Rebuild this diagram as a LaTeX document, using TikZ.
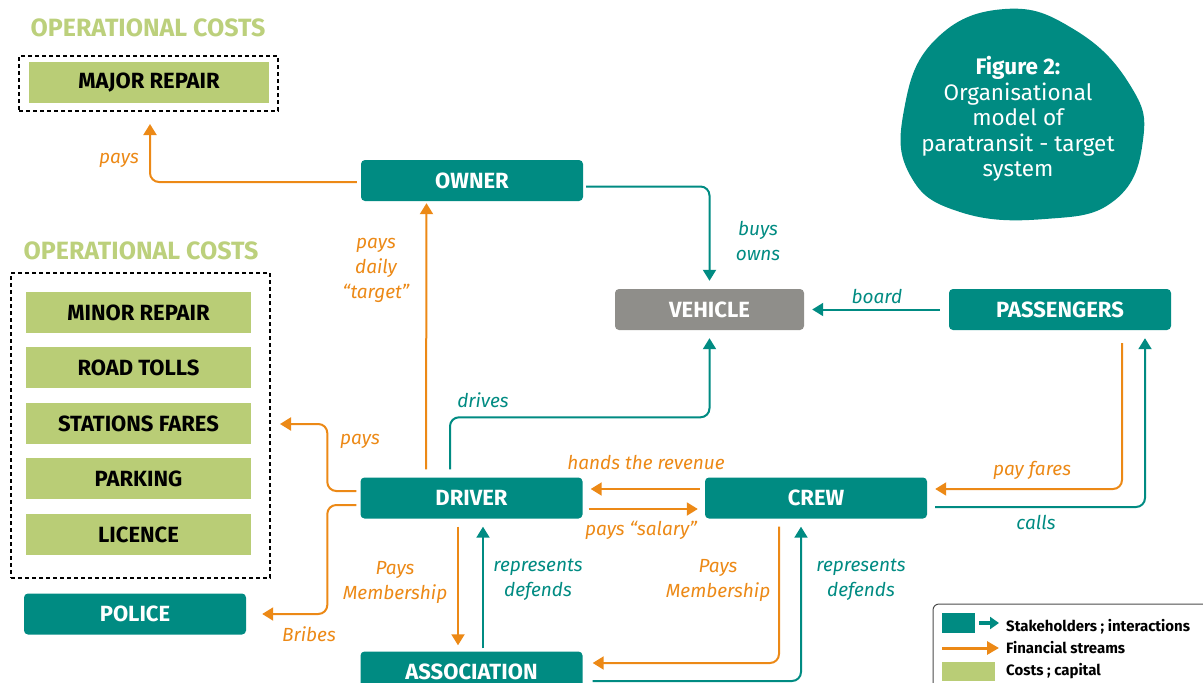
\documentclass[tikz,border=0pt]{standalone}
\usepackage{fontspec}
\setmainfont{Fira Sans}
\usetikzlibrary{arrows.meta,calc}

\definecolor{stake}{RGB}{0,139,130}
\definecolor{money}{RGB}{236,137,22}
\definecolor{cost}{RGB}{185,205,118}
\definecolor{costhead}{RGB}{188,208,124}
\definecolor{vehiclegray}{RGB}{143,142,138}

\tikzset{
  actor/.style={rounded corners=4pt, fill=stake, text=white,
    minimum width=222pt, minimum height=41pt, inner sep=0pt,
    font=\fontsize{22}{26}\selectfont\bfseries},
  costbox/.style={fill=cost, text=black,
    minimum width=225pt, minimum height=41pt, inner sep=0pt,
    font=\fontsize{22}{26}\selectfont\bfseries},
  frame/.style={draw=black, dashed, line width=1.2pt, dash pattern=on 4pt off 3pt},
  head/.style={text=costhead, font=\fontsize{25}{29}\selectfont\bfseries},
  fin/.style={draw=money, line width=2pt, rounded corners=9pt,
    -{Triangle[length=11pt,width=13pt]}},
  rel/.style={draw=stake, line width=2pt, rounded corners=9pt,
    -{Triangle[length=11pt,width=13pt]}},
  finlabel/.style={text=money, align=center, inner sep=0pt,
    font=\fontsize{19}{25}\selectfont\itshape},
  rellabel/.style={text=stake, align=center, inner sep=0pt,
    font=\fontsize{19}{25}\selectfont\itshape},
  keytext/.style={anchor=west, inner sep=0pt, font=\fontsize{15}{18}\selectfont\bfseries}
}

\begin{document}
\begin{tikzpicture}[x=1pt,y=-1pt]
\useasboundingbox (0,0) rectangle (1203,683);
\clip (0,0) rectangle (1203,683);

% ---- cost groups ----
\node[head] (head1) at (148,28) {OPERATIONAL COSTS};
\node[frame, minimum width=259pt, minimum height=55pt, inner sep=0pt] (majorframe) at (148.5,83.5) {};
\node[costbox, minimum width=240pt] (major) at (149,82.5) {MAJOR REPAIR};

\node[head] (head2) at (141,251) {OPERATIONAL COSTS};
\node[frame, minimum width=259pt, minimum height=305pt, inner sep=0pt] (costframe) at (140.5,425.5) {};
\node[costbox] (minor)    at (138.5,312.5) {MINOR REPAIR};
\node[costbox] (tolls)    at (138.5,367.5) {ROAD TOLLS};
\node[costbox] (stations) at (138.5,423.5) {STATIONS FARES};
\node[costbox] (parking)  at (138.5,478.5) {PARKING};
\node[costbox] (licence)  at (138.5,534.5) {LICENCE};

% ---- stakeholders ----
\node[actor] (police)     at (135,614)   {POLICE};
\node[actor] (owner)      at (472,180.5) {OWNER};
\node[actor, fill=vehiclegray, minimum width=189pt] (vehicle) at (709.5,309.5) {VEHICLE};
\node[actor] (passengers) at (1060,309.5) {PASSENGERS};
\node[actor] (driver)     at (471.5,498) {DRIVER};
\node[actor] (crew)       at (816,498)   {CREW};
\node[actor] (association) at (471.5,672) {ASSOCIATION};

% ---- title blob ----
\fill[stake] plot[smooth cycle, tension=0.75] coordinates
  {(1005,9) (1075,30) (1130,85) (1143,140) (1115,200) (1045,219)
   (960,212) (910,175) (904,110) (935,40)};
\node[text=white, align=center, inner sep=0pt,
      font=\fontsize{22.5}{25.5}\selectfont] (title) at (1018,119)
  {\textbf{Figure 2:}\\Organisational\\model of\\paratransit - target\\system};

% ---- free ends ----
\coordinate (majorin) at (150,124);
\coordinate (costsin) at (280,424);

% ---- connectors ----
% owner pays major repair
\draw[fin] ([xshift=-4pt,yshift=-1.5pt]owner.west) -| (majorin);
\node[finlabel] (l-pays1) at (119,160) {pays};

% owner buys the vehicle
\draw[rel] ([xshift=3pt,yshift=-6pt]owner.east) -| ([yshift=8pt]vehicle.north);
\node[rellabel] (l-buys) at (758,241) {buys\\owns};

% driver pays the owner
\draw[fin] ([xshift=-45.5pt,yshift=8pt]driver.north) -- ([xshift=-45.5pt,yshift=-2pt]owner.south);
\node[finlabel] (l-target) at (376,270) {pays\\daily\\“target”};

% driver drives the vehicle
\draw[rel] ([xshift=-21.5pt,yshift=8pt]driver.north) -- ++(0,-52) -| ([yshift=-8pt]vehicle.south);
\node[rellabel] (l-drives) at (483,400) {drives};

% passengers board
\draw[rel] ([xshift=-9pt]passengers.west) -- ([xshift=8pt]vehicle.east);
\node[rellabel] (l-board) at (877,296) {board};

% driver pays costs and bribes
\draw[fin] ([xshift=-4pt,yshift=7pt]driver.west) -- ++(-29,0) |- (costsin);
\node[finlabel] (l-pays2) at (360,441) {pays};
\draw[fin] ([xshift=-4pt,yshift=-7pt]driver.west) -- ++(-29,0) |- ([xshift=16pt]police.east);
\node[finlabel] (l-bribes) at (309,634) {Bribes};

% driver and crew
\draw[fin] ([xshift=-5pt,yshift=9pt]crew.west) -- ([xshift=8pt,yshift=9pt]driver.east);
\node[finlabel] (l-hands) at (646,463) {hands the revenue};
\draw[fin] ([xshift=6pt,yshift=-11pt]driver.east) -- ([xshift=-7pt,yshift=-11pt]crew.west);
\node[finlabel] (l-salary) at (641,530) {pays “salary”};

% passengers and crew
\draw[fin] ([xshift=62pt,yshift=-13pt]passengers.south) |- ([xshift=8pt,yshift=9pt]crew.east);
\node[finlabel] (l-fares) at (1032,470) {pay fares};
\draw[rel] ([xshift=8pt,yshift=-9pt]crew.east) -| ([xshift=85pt,yshift=-8pt]passengers.south);
\node[rellabel] (l-calls) at (1036,522) {calls};

% association
\draw[fin] ([xshift=-13.5pt,yshift=-8pt]driver.south) -- ([xshift=-13.5pt,yshift=6pt]association.north);
\node[finlabel] (l-memb1) at (395,582) {Pays\\Membership};
\draw[rel] ([xshift=11.5pt,yshift=3pt]association.north) -- ([xshift=11.5pt,yshift=-8pt]driver.south);
\node[rellabel] (l-rep1) at (538,580) {represents\\defends};
\draw[fin] ([xshift=-37pt,yshift=-8pt]crew.south) |- ([xshift=10pt,yshift=9pt]association.east);
\node[finlabel] (l-memb2) at (718,580) {Pays\\Membership};
\draw[rel] ([xshift=10pt,yshift=-9pt]association.east) -| ([xshift=-15pt,yshift=-8pt]crew.south);
\node[rellabel] (l-rep2) at (861,580) {represents\\defends};

% ---- key ----
\draw[draw=black!70, line width=1pt, rounded corners=6pt, fill=white] (933,604) rectangle (1215,700);
\fill[stake] (942,613) rectangle (975,633);
\draw[stake, line width=4pt, -{Triangle[length=9pt,width=12pt]}] (979,623) -- (999,623);
\node[keytext] (k1) at (1006,627) {Stakeholders ; interactions};
\draw[money, line width=3pt, -{Triangle[length=12pt,width=13pt]}] (942,648) -- (999,648);
\node[keytext] (k2) at (1006,648) {Financial streams};
\fill[cost] (942,662) rectangle (995,681);
\node[keytext] (k3) at (1006,671) {Costs ; capital};
\end{tikzpicture}
\end{document}
